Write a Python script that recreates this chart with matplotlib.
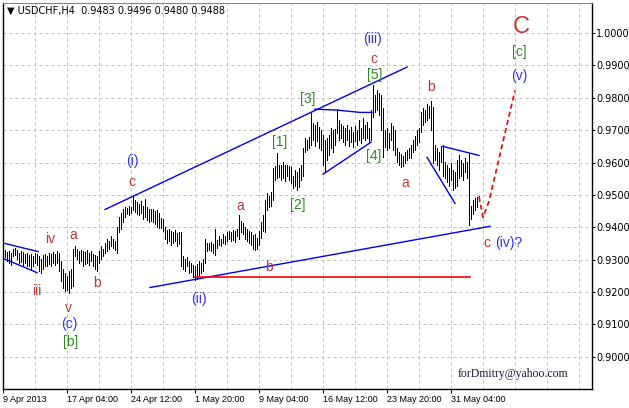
import numpy as np
import matplotlib
matplotlib.use("Agg")
import matplotlib.pyplot as plt
from matplotlib.ticker import MultipleLocator, FormatStrFormatter

# H4 bars, high / low (left to right)
highs = [
    .9331, .9325, .9328, .9322, .9334, .9337, .9331, .9322, .9328, .9325,
    .9319, .9322, .9313, .9316, .9310, .9322, .9316, .9310, .9303, .9313,
    .9319, .9310, .9322, .9316, .9325, .9319, .9328, .9322, .9297, .9272,
    .9260, .9251, .9266, .9272, .9334, .9341, .9334, .9328, .9331, .9328,
    .9325, .9331, .9322, .9328, .9319, .9313, .9310, .9328, .9341, .9334,
    .9353, .9365, .9359, .9372, .9365, .9359, .9402, .9433, .9443, .9458,
    .9464, .9461, .9467, .9464, .9498, .9483, .9477, .9471, .9480, .9467,
    .9486, .9464, .9458, .9455, .9458, .9449, .9452, .9443, .9430, .9427,
    .9402, .9393, .9396, .9390, .9387, .9393, .9381, .9384, .9387, .9310,
    .9303, .9307, .9297, .9291, .9285, .9279, .9288, .9297, .9291, .9303,
    .9365, .9353, .9350, .9356, .9347, .9396, .9362, .9372, .9365, .9378,
    .9372, .9387, .9390, .9384, .9393, .9390, .9396, .9437, .9421, .9412,
    .9402, .9396, .9390, .9384, .9375, .9378, .9368, .9390, .9415, .9437,
    .9483, .9505, .9498, .9508, .9582, .9588, .9628, .9594, .9591, .9601,
    .9591, .9594, .9588, .9585, .9560, .9576, .9570, .9582, .9591, .9644,
    .9675, .9669, .9678, .9752, .9721, .9715, .9724, .9709, .9700, .9684,
    .9669, .9675, .9684, .9706, .9700, .9703, .9765, .9731, .9718, .9712,
    .9706, .9715, .9700, .9709, .9693, .9712, .9700, .9731, .9706, .9737,
    .9715, .9724, .9706, .9762, .9839, .9808, .9824, .9814, .9808, .9768,
    .9700, .9706, .9690, .9721, .9712, .9700, .9644, .9632, .9625, .9619,
    .9632, .9638, .9644, .9653, .9669, .9681, .9700, .9706, .9755, .9768,
    .9762, .9780, .9774, .9789, .9771, .9653, .9644, .9632, .9650, .9653,
    .9601, .9591, .9582, .9598, .9576, .9570, .9607, .9622, .9607, .9598,
    .9613, .9601, .9625, .9467, .9483, .9489, .9495, .9496,
]
lows = [
    .9307, .9297, .9291, .9285, .9310, .9313, .9303, .9291, .9294, .9285,
    .9291, .9279, .9282, .9272, .9279, .9291, .9285, .9266, .9260, .9272,
    .9282, .9279, .9288, .9282, .9291, .9285, .9291, .9266, .9235, .9211,
    .9204, .9207, .9198, .9214, .9220, .9310, .9303, .9291, .9297, .9282,
    .9288, .9291, .9285, .9297, .9279, .9272, .9266, .9291, .9303, .9310,
    .9322, .9328, .9334, .9341, .9337, .9331, .9322, .9384, .9396, .9415,
    .9433, .9440, .9437, .9443, .9452, .9446, .9440, .9437, .9443, .9427,
    .9433, .9424, .9415, .9421, .9415, .9409, .9402, .9399, .9399, .9390,
    .9365, .9353, .9359, .9344, .9350, .9359, .9341, .9347, .9279, .9272,
    .9266, .9279, .9260, .9263, .9248, .9238, .9241, .9254, .9260, .9266,
    .9291, .9328, .9331, .9328, .9322, .9313, .9337, .9344, .9341, .9350,
    .9347, .9359, .9365, .9359, .9362, .9356, .9372, .9365, .9384, .9378,
    .9365, .9359, .9350, .9344, .9334, .9331, .9334, .9344, .9368, .9390,
    .9384, .9452, .9464, .9467, .9483, .9545, .9551, .9554, .9545, .9551,
    .9542, .9557, .9545, .9536, .9520, .9529, .9514, .9526, .9545, .9560,
    .9632, .9638, .9644, .9653, .9669, .9650, .9666, .9644, .9638, .9591,
    .9570, .9607, .9622, .9644, .9632, .9653, .9690, .9669, .9675, .9663,
    .9653, .9669, .9650, .9663, .9647, .9666, .9653, .9669, .9659, .9675,
    .9669, .9675, .9663, .9669, .9740, .9755, .9762, .9746, .9700, .9616,
    .9647, .9638, .9644, .9669, .9638, .9622, .9601, .9591, .9585, .9588,
    .9598, .9607, .9613, .9613, .9632, .9638, .9653, .9663, .9693, .9715,
    .9724, .9731, .9737, .9700, .9598, .9607, .9591, .9576, .9601, .9560,
    .9551, .9539, .9529, .9545, .9514, .9520, .9529, .9551, .9560, .9545,
    .9570, .9551, .9406, .9427, .9440, .9452, .9464, .9480,
]
bar_index = np.arange(1, len(highs) + 1)

tick_pos = [0, 32, 64, 96, 128, 160, 192, 224]
tick_labels = ["9 Apr 2013", "17 Apr 04:00", "24 Apr 12:00", "1 May 20:00",
               "9 May 04:00", "16 May 12:00", "23 May 20:00", "31 May 04:00"]
header = "\u25bc USDCHF,H4  0.9483 0.9496 0.9480 0.9488"
watermark = "forDmitry@yahoo.com"

RED = "#cc3333"
BLUE = "#3333ff"
GREEN = "#2e8b22"

# wave labels: text, bar position, price, colour
wave_labels = [
    ("iv", 23.5, .9363, RED), ("a", 35, .9375, RED), ("iii", 17, .9204, RED),
    ("v", 32.5, .9150, RED), ("(c)", 33, .9102, BLUE), ("[b]", 34, .9046, GREEN),
    ("b", 47, .9229, RED), ("(i)", 64.5, .9604, BLUE), ("c", 64.5, .9539, RED),
    ("a", 118.5, .9467, RED), ("b", 133, .9276, RED), ("(ii)", 98, .9180, BLUE),
    ("[1]", 138.5, .9663, GREEN), ("[2]", 147.5, .9469, GREEN),
    ("[3]", 152.5, .9796, GREEN), ("(iii)", 184.5, .9981, BLUE),
    ("c", 185.5, .9920, RED), ("[5]", 186, .9870, GREEN), ("[4]", 185.5, .9619, GREEN),
    ("a", 201, .9536, RED), ("b", 214, .9833, RED), ("c", 242, .9350, RED),
    ("(iv)?", 253, .9350, BLUE), ("(v)", 258, .9867, BLUE), ("[c]", 258, .9941, GREEN),
]

# trend lines (bar position, price)
blue_lines = [
    [(51, .9455), (202, .9895)],
    [(73.5, .9214), (243.5, .9403)],
    [(1, .9350), (17.5, .9325)],
    [(0.5, .9303), (17, .9260)],
    [(156, .9765), (167, .9762), (178.5, .9755), (184.5, .9755)],
    [(160, .9564), (184, .9663)],
    [(220, .9650), (238, .9622)],
    [(212, .9616), (226, .9474)],
]
red_level = [(96, .9246), (233.5, .9246)]
projection = [(238, .9495), (240, .9431), (243, .9480), (256, .9823)]

fig = plt.figure(figsize=(6.29, 4.08), dpi=100)
ax = fig.add_axes([3 / 629, 19 / 408, 589 / 629, 386 / 408])
ax.set_xlim(0, 294.5)
ax.set_ylim(0.89005, 1.00929)

ax.vlines(bar_index, lows, highs, colors="black", linewidth=0.6, antialiased=False, zorder=3)

for pts in blue_lines:
    xs, ys = zip(*pts)
    ax.plot(xs, ys, color="#0000ff", linewidth=1.0, zorder=4)
xs, ys = zip(*red_level)
ax.plot(xs, ys, color="#ff0000", linewidth=1.2, zorder=4)
xs, ys = zip(*projection)
ax.plot(xs, ys, color="#ff0000", linewidth=1.2, linestyle=(0, (3, 2)), zorder=4)

for text, x, y, col in wave_labels:
    ax.text(x, y, text, color=col, fontsize=10, family="Liberation Sans",
            ha="center", va="center", zorder=5)
ax.text(259, 1.0019, "C", color=RED, fontsize=17, family="Liberation Sans",
        ha="center", va="center", zorder=5)

# axes styling
ax.xaxis.set_minor_locator(MultipleLocator(16))
ax.set_xticks(tick_pos)
ax.set_xticklabels(tick_labels, fontsize=6.5, family="Liberation Sans")
for lab in ax.get_xticklabels():
    lab.set_horizontalalignment("left")
ax.tick_params(axis="x", which="major", direction="out", length=3, width=0.7, pad=1.5)
ax.tick_params(axis="x", which="minor", length=0)

ax.yaxis.tick_right()
ax.yaxis.set_major_locator(MultipleLocator(0.01))
ax.yaxis.set_major_formatter(FormatStrFormatter("%.4f"))
ax.tick_params(axis="y", direction="out", length=2.5, width=0.7, pad=0.5, labelsize=7)

ax.grid(True, axis="x", which="both", color="#c0c0c0", linestyle=(0, (3, 3)), linewidth=0.72)
ax.grid(True, axis="y", which="major", color="#c0c0c0", linestyle=(0, (3, 3)), linewidth=0.72)
ax.set_axisbelow(True)
for side in ["left", "right", "bottom"]:
    ax.spines[side].set_linewidth(1.0)
    ax.spines[side].set_color("black")
ax.spines["top"].set_color("#808080")
ax.spines["top"].set_linewidth(0.7)

fig.text(7 / 629, 1 - 11 / 408, header, fontsize=7, va="center", ha="left")
fig.text(513 / 629, 1 - 374 / 408, watermark, fontsize=8.5, family="Liberation Serif",
         color="#1a1a40", ha="center", va="center")

fig.savefig("out.png", dpi=100)
